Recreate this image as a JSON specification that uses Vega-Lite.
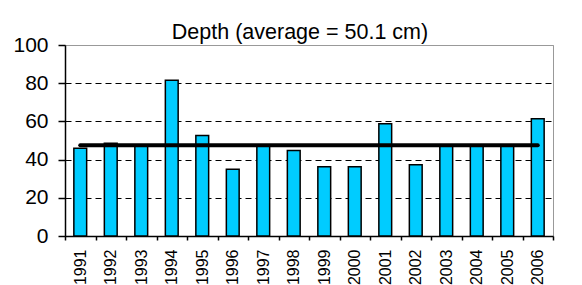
{
  "$schema": "https://vega.github.io/schema/vega-lite/v6.json",
  "autosize": "none",
  "width": 488,
  "height": 191,
  "padding": {"left": 65, "top": 45, "right": 29, "bottom": 49},
  "background": "white",
  "title": {
    "text": "Depth (average = 50.1 cm)",
    "font": "Liberation Sans",
    "fontSize": 21.5,
    "fontWeight": "normal",
    "color": "black",
    "anchor": "middle",
    "baseline": "alphabetic",
    "offset": 8,
    "dx": -9,
    "dy": 34
  },
  "data": {
    "values": [
      {"year": "1991", "depth": 46, "avg": 47.5},
      {"year": "1992", "depth": 48.5, "avg": 47.5},
      {"year": "1993", "depth": 47, "avg": 47.5},
      {"year": "1994", "depth": 81.5, "avg": 47.5},
      {"year": "1995", "depth": 52.6, "avg": 47.5},
      {"year": "1996", "depth": 35, "avg": 47.5},
      {"year": "1997", "depth": 47, "avg": 47.5},
      {"year": "1998", "depth": 44.7, "avg": 47.5},
      {"year": "1999", "depth": 36.3, "avg": 47.5},
      {"year": "2000", "depth": 36.3, "avg": 47.5},
      {"year": "2001", "depth": 58.8, "avg": 47.5},
      {"year": "2002", "depth": 37.3, "avg": 47.5},
      {"year": "2003", "depth": 47, "avg": 47.5},
      {"year": "2004", "depth": 47, "avg": 47.5},
      {"year": "2005", "depth": 47, "avg": 47.5},
      {"year": "2006", "depth": 61.4, "avg": 47.5}
    ]
  },
  "encoding": {
    "x": {
      "field": "year",
      "type": "ordinal",
      "scale": {"padding": 0},
      "axis": {
        "title": null,
        "labelAngle": -90,
        "labelFont": "Liberation Sans",
        "labelFontSize": 16,
        "labelColor": "black",
        "labelPadding": 9,
        "labelOverlap": false,
        "tickSize": 4,
        "tickColor": "black",
        "tickBand": "extent",
        "domainColor": "black",
        "domainWidth": 1.5,
        "tickWidth": 1.5,
        "grid": false
      }
    },
    "y": {
      "field": "depth",
      "type": "quantitative",
      "scale": {"domain": [0, 100], "nice": false},
      "axis": {
        "title": null,
        "values": [0, 20, 40, 60, 80, 100],
        "labelFont": "Liberation Sans",
        "labelFontSize": 21,
        "labelColor": "black",
        "labelPadding": 10,
        "labelOverlap": false,
        "labelFlush": false,
        "labelBound": false,
        "tickSize": 7,
        "tickColor": "black",
        "tickWidth": 1.5,
        "domainColor": "black",
        "domainWidth": 1.5,
        "grid": true,
        "gridColor": {"condition": {"test": "datum.value === 100", "value": "#999999"}, "value": "black"},
        "gridDash": {"condition": {"test": "datum.value === 100", "value": []}, "value": [6, 4]},
        "gridWidth": 1
      }
    }
  },
  "layer": [
    {
      "mark": {"type": "bar", "width": {"band": 0.42}, "fill": "#00CCFF", "stroke": "black", "strokeWidth": 1.5}
    },
    {
      "mark": {"type": "line", "color": "black", "strokeWidth": 4, "strokeCap": "round"},
      "encoding": {
        "y": {"field": "avg", "type": "quantitative"}
      }
    }
  ],
  "config": {
    "view": {"stroke": "#999999", "strokeWidth": 1}
  }
}
